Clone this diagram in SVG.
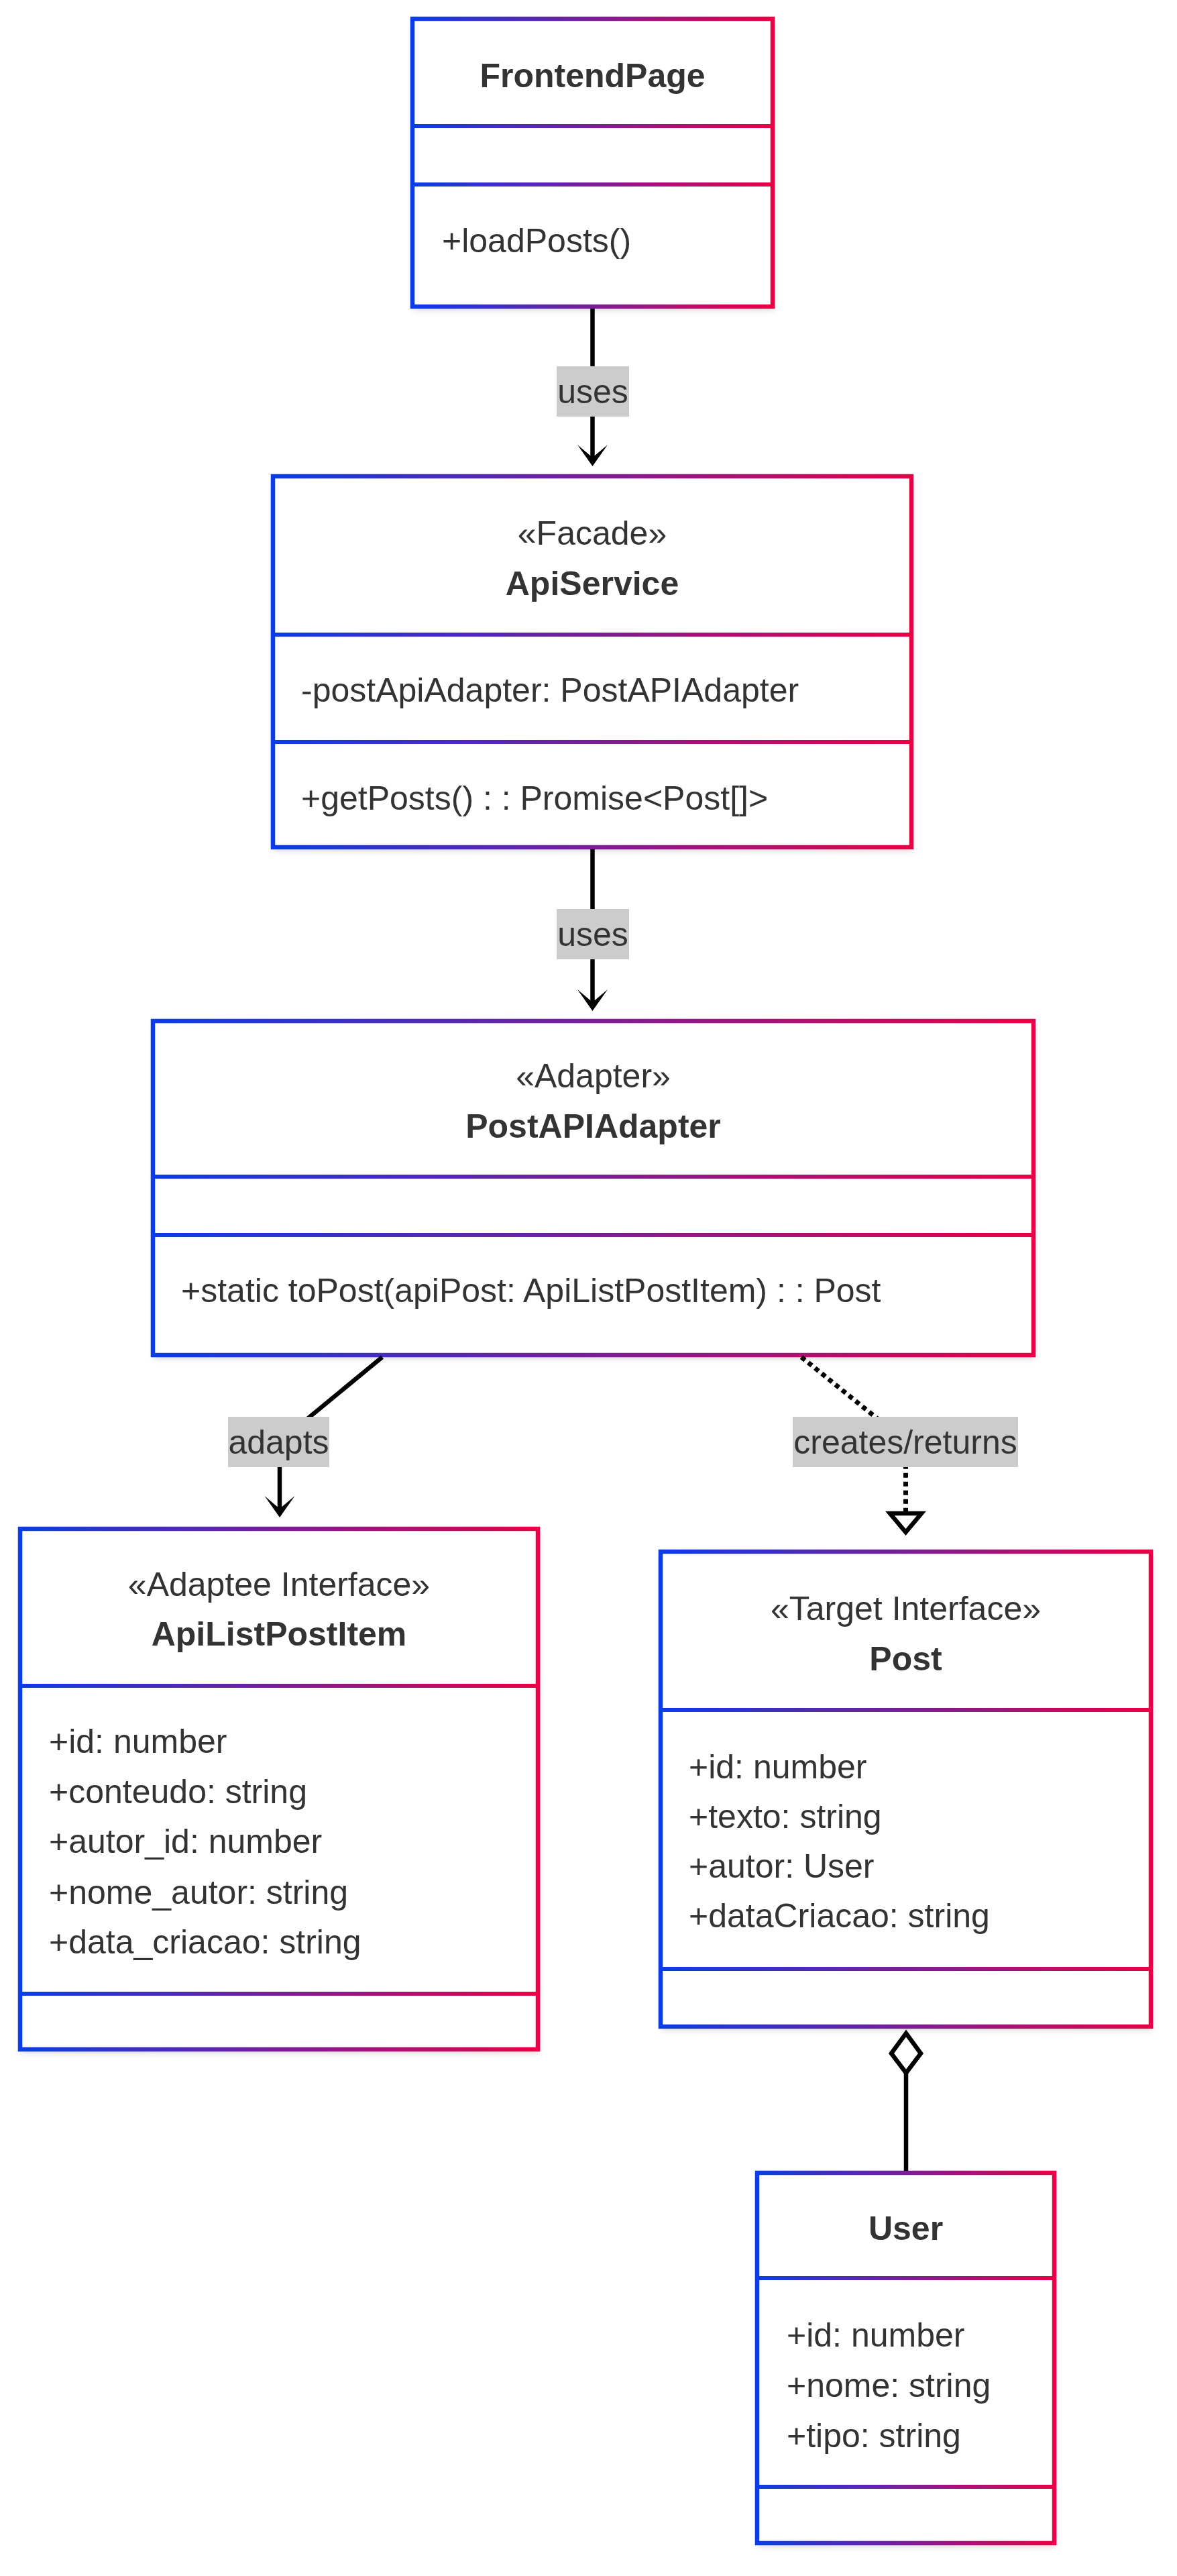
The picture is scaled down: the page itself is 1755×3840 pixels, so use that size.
<svg xmlns="http://www.w3.org/2000/svg" width="1755" height="3840" viewBox="0 0 1755 3840">
<defs>
<linearGradient id="g" x1="0" y1="0" x2="1" y2="0">
<stop offset="0" stop-color="#0a3ce8"/>
<stop offset="1" stop-color="#ea0045"/>
</linearGradient>
<filter id="sh" x="-10%" y="-10%" width="120%" height="120%">
<feDropShadow dx="2" dy="5" stdDeviation="5" flood-color="#000" flood-opacity="0.16"/>
</filter>
</defs>
<style>
.box{fill:#fff;stroke:url(#g);stroke-width:6.5}
.bg{fill:#fff;filter:url(#sh)}
.div{fill:url(#g)}
text{font-family:"Liberation Sans",Arial,sans-serif;font-size:50px;fill:#333}
.t{font-weight:bold;text-anchor:middle}
.s{text-anchor:middle}
.ln{fill:none;stroke:#000;stroke-width:6.5}
.dot{fill:none;stroke:#000;stroke-width:7;stroke-dasharray:7 6}
.lb{fill:#cccccc}
.lt{text-anchor:middle}
.head{fill:#000}
.hollow{fill:#fff;stroke:#000;stroke-width:6.5}
</style>

<g id="FrontendPage">
<rect class="bg" x="615" y="28" width="537" height="429"/>
<rect class="box" x="615" y="28" width="537" height="429"/>
<rect class="div" x="615" y="185" width="537" height="6"/>
<rect class="div" x="615" y="272" width="537" height="6"/>
<text class="t" x="883.5" y="130">FrontendPage</text>
<text x="659" y="376">+loadPosts()</text>
</g>

<g id="ApiService">
<rect class="bg" x="407" y="710" width="952" height="553"/>
<rect class="box" x="407" y="710" width="952" height="553"/>
<rect class="div" x="407" y="943" width="952" height="6"/>
<rect class="div" x="407" y="1103" width="952" height="6"/>
<text class="s" x="883" y="812">«Facade»</text>
<text class="t" x="883" y="887">ApiService</text>
<text x="449" y="1046">-postApiAdapter: PostAPIAdapter</text>
<text x="449" y="1207">+getPosts() : : Promise&lt;Post[]&gt;</text>
</g>

<g id="PostAPIAdapter">
<rect class="bg" x="228" y="1522" width="1313" height="498"/>
<rect class="box" x="228" y="1522" width="1313" height="498"/>
<rect class="div" x="228" y="1751" width="1313" height="6"/>
<rect class="div" x="228" y="1838" width="1313" height="6"/>
<text class="s" x="884.5" y="1621">«Adapter»</text>
<text class="t" x="884.5" y="1696">PostAPIAdapter</text>
<text x="270" y="1941">+static toPost(apiPost: ApiListPostItem) : : Post</text>
</g>

<g id="ApiListPostItem">
<rect class="bg" x="30" y="2279" width="772" height="776"/>
<rect class="box" x="30" y="2279" width="772" height="776"/>
<rect class="div" x="30" y="2510" width="772" height="6"/>
<rect class="div" x="30" y="2969" width="772" height="6"/>
<text class="s" x="416" y="2379">«Adaptee Interface»</text>
<text class="t" x="416" y="2453">ApiListPostItem</text>
<text x="73" y="2613">+id: number</text>
<text x="73" y="2688">+conteudo: string</text>
<text x="73" y="2762">+autor_id: number</text>
<text x="73" y="2838">+nome_autor: string</text>
<text x="73" y="2912">+data_criacao: string</text>
</g>

<g id="Post">
<rect class="bg" x="985" y="2313" width="731" height="708"/>
<rect class="box" x="985" y="2313" width="731" height="708"/>
<rect class="div" x="985" y="2546" width="731" height="6"/>
<rect class="div" x="985" y="2932" width="731" height="6"/>
<text class="s" x="1350.5" y="2415">«Target Interface»</text>
<text class="t" x="1350.5" y="2490">Post</text>
<text x="1027" y="2651">+id: number</text>
<text x="1027" y="2725">+texto: string</text>
<text x="1027" y="2799">+autor: User</text>
<text x="1027" y="2873">+dataCriacao: string</text>
</g>

<g id="User">
<rect class="bg" x="1129" y="3239" width="443" height="552"/>
<rect class="box" x="1129" y="3239" width="443" height="552"/>
<rect class="div" x="1129" y="3393" width="443" height="6"/>
<rect class="div" x="1129" y="3704" width="443" height="6"/>
<text class="t" x="1350.5" y="3339">User</text>
<text x="1173" y="3498">+id: number</text>
<text x="1173" y="3573">+nome: string</text>
<text x="1173" y="3648">+tipo: string</text>
</g>

<g id="connectors">
<line class="ln" x1="883.5" y1="460" x2="883.5" y2="690"/>
<polygon class="head" points="883.5,695 861,663 883.5,682 906,663"/>
<rect class="lb" x="830" y="546" width="108" height="75"/>
<text class="lt" x="884" y="601">uses</text>

<line class="ln" x1="883.5" y1="1266" x2="883.5" y2="1502"/>
<polygon class="head" points="883.5,1507 861,1475 883.5,1494 906,1475"/>
<rect class="lb" x="830" y="1355" width="108" height="75"/>
<text class="lt" x="884" y="1410">uses</text>

<polyline class="ln" points="570,2023 417,2149 417,2257"/>
<polygon class="head" points="417,2262 394.5,2230 417,2249 439.5,2230"/>
<rect class="lb" x="340" y="2112" width="151" height="75"/>
<text class="lt" x="415.5" y="2167">adapts</text>

<polyline class="dot" points="1195,2023 1350.5,2149 1350.5,2256"/>
<polygon class="hollow" points="1327,2256 1374,2256 1350.5,2284"/>
<rect class="lb" x="1182" y="2112" width="336" height="75"/>
<text class="lt" x="1350" y="2167">creates/returns</text>

<line class="ln" x1="1351" y1="3090" x2="1351" y2="3236"/>
<polygon class="hollow" points="1351,3031 1373,3061 1351,3090 1329,3061"/>
</g>
</svg>
